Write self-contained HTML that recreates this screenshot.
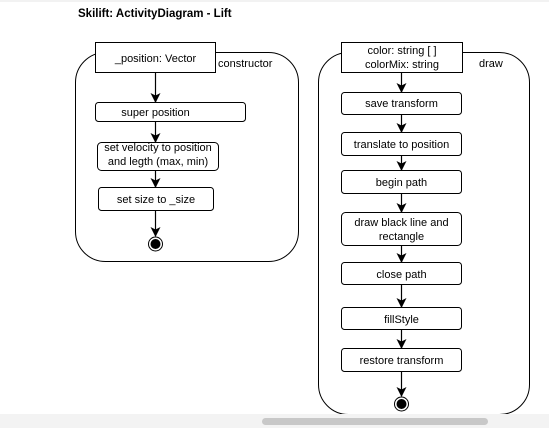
<!DOCTYPE html>
<html><head><style>
body{margin:0;width:549px;height:428px;overflow:hidden;background:#fff;font-family:"Liberation Sans",Arial,sans-serif}
</style></head><body>
<svg width="549" height="428" xmlns="http://www.w3.org/2000/svg" font-family="Liberation Sans, Arial, sans-serif" font-size="11">
<defs><marker id="a" markerWidth="10" markerHeight="10" refX="9" refY="5" orient="auto" markerUnits="userSpaceOnUse"><path d="M0,0 L10,5 L0,10 L2.5,5 z" fill="#000"/></marker></defs>
<line x1="0" y1="1" x2="549" y2="1" stroke="#e6e6e6"/>
<text x="78" y="17" font-weight="bold" font-size="11.5">Skilift: ActivityDiagram - Lift</text>
<g fill="none" stroke="#000" stroke-width="1">
<rect x="75.5" y="52.5" width="223" height="209" rx="30"/>
<rect x="318.5" y="52.5" width="211" height="362" rx="30"/>
</g>
<g fill="#fff" stroke="#000">
<rect x="95.5" y="42.5" width="120" height="30"/>
<rect x="95.5" y="102.5" width="150" height="19" rx="3"/>
<rect x="97.5" y="142.5" width="121" height="28" rx="4"/>
<rect x="98.5" y="187.5" width="115" height="23" rx="3"/>
<rect x="341.5" y="42.5" width="121" height="30"/>
<rect x="341.5" y="92.5" width="120" height="22" rx="3"/>
<rect x="341.5" y="132.5" width="120" height="23" rx="3"/>
<rect x="341.5" y="170.5" width="120" height="23" rx="3"/>
<rect x="341.5" y="212.5" width="120" height="33" rx="4"/>
<rect x="341.5" y="262.5" width="120" height="22" rx="3"/>
<rect x="341.5" y="307.5" width="120" height="22" rx="3"/>
<rect x="341.5" y="348.5" width="120" height="23" rx="3"/>
</g>
<g stroke="#000" stroke-width="1.2" marker-end="url(#a)">
<line x1="155.5" y1="73" x2="155.5" y2="102"/>
<line x1="155.5" y1="122" x2="155.5" y2="142"/>
<line x1="155.5" y1="171" x2="155.5" y2="187"/>
<line x1="155.5" y1="211" x2="155.5" y2="236"/>
<line x1="401.5" y1="73" x2="401.5" y2="92"/>
<line x1="401.5" y1="115" x2="401.5" y2="132"/>
<line x1="401.5" y1="156" x2="401.5" y2="170"/>
<line x1="401.5" y1="194" x2="401.5" y2="212"/>
<line x1="401.5" y1="246" x2="401.5" y2="262"/>
<line x1="401.5" y1="285" x2="401.5" y2="307"/>
<line x1="401.5" y1="330" x2="401.5" y2="348"/>
<line x1="401.5" y1="372" x2="401.5" y2="396"/>
</g>
<circle cx="155.5" cy="244" r="7" fill="#fff" stroke="#000"/><circle cx="155.5" cy="244" r="5" fill="#000"/>
<circle cx="401.5" cy="404" r="7" fill="#fff" stroke="#000"/><circle cx="401.5" cy="404" r="5" fill="#000"/>
<g text-anchor="middle">
<text x="155.5" y="62">_position: Vector</text>
<text x="155.5" y="116">super position</text>
<text x="158" y="151">set velocity to position</text>
<text x="158" y="165">and legth (max, min)</text>
<text x="156" y="203">set size to _size</text>
<text x="402" y="54">color: string [ ]</text>
<text x="402" y="68">colorMix: string</text>
<text x="401.5" y="107">save transform</text>
<text x="401.5" y="148">translate to position</text>
<text x="401.5" y="186">begin path</text>
<text x="401.5" y="226">draw black line and</text>
<text x="401.5" y="240">rectangle</text>
<text x="401.5" y="278">close path</text>
<text x="401.5" y="323">fillStyle</text>
<text x="401.5" y="364">restore transform</text>
</g>
<text x="218" y="67">constructor</text>
<text x="479" y="67">draw</text>
<rect x="0" y="414" width="549" height="14" fill="#f3f3f3"/>
<rect x="262" y="418" width="226" height="7" rx="3.5" fill="#c8c8c8"/>
</svg>
</body></html>
